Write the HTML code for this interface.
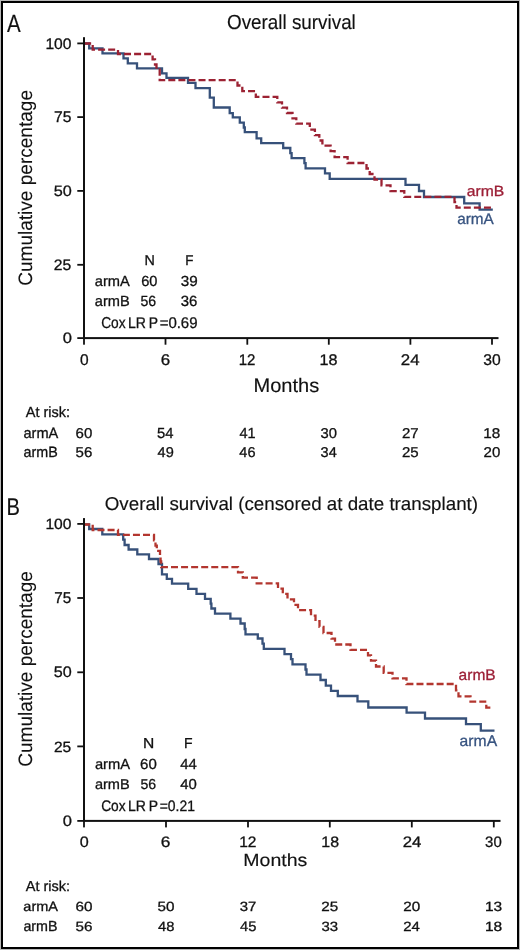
<!DOCTYPE html>
<html><head><meta charset="utf-8"><title>Overall survival</title>
<style>
html,body{margin:0;padding:0;background:#fff;}
svg{display:block;font-family:"Liberation Sans", sans-serif;}
svg{will-change:transform;} text{text-rendering:geometricPrecision;}
</style></head>
<body><svg width="520" height="950" viewBox="0 0 520 950">
<rect x="0" y="0" width="520" height="950" fill="#fff"/>
<rect x="0.5" y="0.5" width="519" height="949" fill="none" stroke="#b8b8b8" stroke-width="1"/>
<rect x="2" y="2" width="516" height="946" fill="none" stroke="#000" stroke-width="2"/>
<rect x="83" y="37.2" width="2" height="301.90" fill="#111"/><rect x="83" y="337.10" width="415.50" height="2" fill="#111"/><rect x="77.3" y="42.50" width="6" height="1.8" fill="#111"/><rect x="77.3" y="116.20" width="6" height="1.8" fill="#111"/><rect x="77.3" y="190.00" width="6" height="1.8" fill="#111"/><rect x="77.3" y="263.90" width="6" height="1.8" fill="#111"/><rect x="77.3" y="337.20" width="6" height="1.8" fill="#111"/><rect x="83.10" y="338.10" width="1.8" height="6.60" fill="#111"/><rect x="164.60" y="338.10" width="1.8" height="6.60" fill="#111"/><rect x="246.40" y="338.10" width="1.8" height="6.60" fill="#111"/><rect x="327.90" y="338.10" width="1.8" height="6.60" fill="#111"/><rect x="409.50" y="338.10" width="1.8" height="6.60" fill="#111"/><rect x="491.10" y="338.10" width="1.8" height="6.60" fill="#111"/>
<rect x="83" y="518.1" width="2" height="303.80" fill="#111"/><rect x="83" y="819.90" width="417.50" height="2" fill="#111"/><rect x="77.3" y="523.00" width="6" height="1.8" fill="#111"/><rect x="77.3" y="597.10" width="6" height="1.8" fill="#111"/><rect x="77.3" y="671.40" width="6" height="1.8" fill="#111"/><rect x="77.3" y="745.50" width="6" height="1.8" fill="#111"/><rect x="77.3" y="820.00" width="6" height="1.8" fill="#111"/><rect x="83.10" y="820.90" width="1.8" height="6.50" fill="#111"/><rect x="165.10" y="820.90" width="1.8" height="6.50" fill="#111"/><rect x="247.10" y="820.90" width="1.8" height="6.50" fill="#111"/><rect x="328.90" y="820.90" width="1.8" height="6.50" fill="#111"/><rect x="410.90" y="820.90" width="1.8" height="6.50" fill="#111"/><rect x="492.90" y="820.90" width="1.8" height="6.50" fill="#111"/>
<path d="M85,43.5 H89.2 V48.3 H102.5 V53.3 H123.5 V58.3 H127.8 V63.4 H137 V68.4 H162 V73.3 H166.5 V77.9 H188 V82.8 H195.5 V88.2 H209.8 V97.7 H213.8 V107.5 H229.7 V113.1 H232.8 V117.4 H239.8 V122.6 H243.8 V127.5 H244.8 V132.2 H256.6 V138.3 H261.2 V143.2 H283.2 V148 H290.3 V153.2 H291.6 V158.2 H304.4 V163.2 H305.6 V168.3 H325 V173.4 H329.7 V178.9 H405.5 V184.8 H419 V191 H424 V197 H464.2 V203.4 H479.6 V209.7 H492.8" fill="none" stroke="#37517a" stroke-width="2.3"/>
<path d="M85,43.5 H92.7 V49.7 H118 V54 H152.6 V59.3 H155 V64.5 H156.5 V69.7 H159.7 V80.2 H237.5 V85.5 H242.3 V91.1 H255.8 V96.8 H277.3 V102.3 H282 V107.7 H287 V113 H292.5 V118.3 H296.3 V123.7 H309.8 V129.6 H314.9 V135.1 H319.3 V140.5 H322.4 V145.6 H330.6 V151.1 H334.6 V157.1 H347.6 V163 H366.5 V168.5 H369.7 V174 H374.5 V179.6 H381.5 V185.3 H390.5 V191.1 H404.3 V196.8 H454.5 V202.2 H456.5 V207.7 H491" fill="none" stroke="#9c2233" stroke-width="2.3" stroke-dasharray="7 3.0714" stroke-dashoffset="0.849"/>
<path d="M85,524.3 H89.2 V529 H102.3 V534.4 H123.2 V539.6 H124.6 V545 H128.6 V549.5 H137.3 V554.3 H149 V559 H158.5 V564 H162 V574.3 H166.8 V578.8 H172 V583.6 H188.2 V588.8 H196.5 V593.8 H205 V598.8 H210.7 V603.7 H211.4 V608.5 H215 V613.7 H230.4 V618.6 H240.5 V623.5 H244.7 V629 H245.5 V634.3 H257.8 V638.5 H262.5 V643.7 H263.8 V648.8 H284.5 V654.1 H291 V659.2 H292.5 V664.4 H305.5 V669.5 H306.5 V674.6 H320.5 V680 H325.8 V685.7 H331 V690.8 H337.8 V696 H357.5 V701.4 H368.3 V707.5 H406.6 V712.7 H425 V718.5 H466 V724.1 H480.8 V730.6 H494.5" fill="none" stroke="#37517a" stroke-width="2.3"/>
<path d="M85,524.5 H92.7 V530 H118 V534.8 H154 V540.3 H155.5 V545.6 H156.8 V550.9 H160 V556.2 H160.6 V561.5 H161.2 V567.2 H238 V572.4 H242.8 V577.7 H256.7 V583.3 H278 V588.6 H282.8 V593.9 H287.5 V599.3 H294 V604.8 H298 V610.2 H311 V615.7 H315.5 V621.2 H319.5 V626.8 H323.5 V633 H331.5 V638.6 H335 V644.5 H350.5 V649.9 H368 V655.3 H371 V660.7 H376 V666.5 H383.7 V672.8 H392.5 V678.4 H406.5 V684 H456 V690.3 H458.5 V696.3 H470.5 V701.7 H486.3 V707.7 H491" fill="none" stroke="#b3362f" stroke-width="2.3" stroke-dasharray="7 3.0634" stroke-dashoffset="2.127"/>
<text x="7.10" y="31.90" font-size="24.87" stroke-width="0.15" textLength="13.71" lengthAdjust="spacingAndGlyphs" fill="#111" stroke="#111">A</text>
<text x="226.98" y="29.10" font-size="20.42" stroke-width="0.15" textLength="128.84" lengthAdjust="spacingAndGlyphs" fill="#111" stroke="#111">Overall survival</text>
<text x="45.40" y="48.50" font-size="15.29" stroke-width="0.3" textLength="26.05" lengthAdjust="spacingAndGlyphs" fill="#111" stroke="#111">100</text>
<text x="54.12" y="122.40" font-size="15.51" stroke-width="0.3" textLength="17.40" lengthAdjust="spacingAndGlyphs" fill="#111" stroke="#111">75</text>
<text x="53.69" y="196.10" font-size="15.00" stroke-width="0.3" textLength="18.06" lengthAdjust="spacingAndGlyphs" fill="#111" stroke="#111">50</text>
<text x="53.71" y="269.60" font-size="15.14" stroke-width="0.3" textLength="17.51" lengthAdjust="spacingAndGlyphs" fill="#111" stroke="#111">25</text>
<text x="62.65" y="343.00" font-size="15.00" stroke-width="0.3" textLength="9.21" lengthAdjust="spacingAndGlyphs" fill="#111" stroke="#111">0</text>
<text x="79.98" y="365.20" font-size="15.43" stroke-width="0.3" textLength="8.63" lengthAdjust="spacingAndGlyphs" fill="#111" stroke="#111">0</text>
<text x="160.75" y="365.20" font-size="15.43" stroke-width="0.3" textLength="9.42" lengthAdjust="spacingAndGlyphs" fill="#111" stroke="#111">6</text>
<text x="238.65" y="365.20" font-size="15.43" stroke-width="0.3" textLength="16.74" lengthAdjust="spacingAndGlyphs" fill="#111" stroke="#111">12</text>
<text x="319.55" y="365.20" font-size="15.43" stroke-width="0.3" textLength="17.99" lengthAdjust="spacingAndGlyphs" fill="#111" stroke="#111">18</text>
<text x="400.86" y="365.20" font-size="15.43" stroke-width="0.3" textLength="18.73" lengthAdjust="spacingAndGlyphs" fill="#111" stroke="#111">24</text>
<text x="483.28" y="365.20" font-size="15.43" stroke-width="0.3" textLength="17.44" lengthAdjust="spacingAndGlyphs" fill="#111" stroke="#111">30</text>
<text x="253.46" y="392.30" font-size="19.50" stroke-width="0.15" textLength="65.77" lengthAdjust="spacingAndGlyphs" fill="#111" stroke="#111">Months</text>
<text x="144.50" y="265.00" font-size="14.30" stroke-width="0.3" textLength="10.36" lengthAdjust="spacingAndGlyphs" fill="#111" stroke="#111">N</text>
<text x="185.27" y="265.00" font-size="14.30" stroke-width="0.3" textLength="8.20" lengthAdjust="spacingAndGlyphs" fill="#111" stroke="#111">F</text>
<text x="94.84" y="286.10" font-size="14.59" stroke-width="0.3" textLength="35.03" lengthAdjust="spacingAndGlyphs" fill="#111" stroke="#111">armA</text>
<text x="141.16" y="286.10" font-size="14.59" stroke-width="0.3" textLength="16.27" lengthAdjust="spacingAndGlyphs" fill="#111" stroke="#111">60</text>
<text x="180.72" y="286.10" font-size="14.59" stroke-width="0.3" textLength="16.93" lengthAdjust="spacingAndGlyphs" fill="#111" stroke="#111">39</text>
<text x="94.84" y="306.30" font-size="14.73" stroke-width="0.3" textLength="34.87" lengthAdjust="spacingAndGlyphs" fill="#111" stroke="#111">armB</text>
<text x="140.46" y="306.30" font-size="14.73" stroke-width="0.3" textLength="15.65" lengthAdjust="spacingAndGlyphs" fill="#111" stroke="#111">56</text>
<text x="180.73" y="306.30" font-size="14.73" stroke-width="0.3" textLength="16.61" lengthAdjust="spacingAndGlyphs" fill="#111" stroke="#111">36</text>
<text x="101.21" y="328.40" font-size="15.74" stroke-width="0.3" textLength="24.42" lengthAdjust="spacingAndGlyphs" fill="#111" stroke="#111">Cox</text>
<text x="127.92" y="328.30" font-size="15.46" stroke-width="0.3" textLength="17.95" lengthAdjust="spacingAndGlyphs" fill="#111" stroke="#111">LR</text>
<text x="148.73" y="328.30" font-size="15.46" stroke-width="0.3" textLength="9.29" lengthAdjust="spacingAndGlyphs" fill="#111" stroke="#111">P</text>
<text x="159.64" y="328.30" font-size="15.46" stroke-width="0.3" textLength="37.92" lengthAdjust="spacingAndGlyphs" fill="#111" stroke="#111">=0.69</text>
<text x="25.80" y="417.40" font-size="14.70" stroke-width="0.3" textLength="44.33" lengthAdjust="spacingAndGlyphs" fill="#111" stroke="#111">At risk:</text>
<text x="23.48" y="437.60" font-size="14.88" stroke-width="0.3" textLength="34.87" lengthAdjust="spacingAndGlyphs" fill="#111" stroke="#111">armA</text>
<text x="23.49" y="456.80" font-size="14.88" stroke-width="0.3" textLength="34.23" lengthAdjust="spacingAndGlyphs" fill="#111" stroke="#111">armB</text>
<text x="75.54" y="437.50" font-size="14.22" stroke-width="0.3" textLength="16.73" lengthAdjust="spacingAndGlyphs" fill="#111" stroke="#111">60</text>
<text x="75.54" y="457.10" font-size="14.22" stroke-width="0.3" textLength="16.73" lengthAdjust="spacingAndGlyphs" fill="#111" stroke="#111">56</text>
<text x="157.06" y="437.50" font-size="14.59" stroke-width="0.3" textLength="16.44" lengthAdjust="spacingAndGlyphs" fill="#111" stroke="#111">54</text>
<text x="157.59" y="457.10" font-size="14.22" stroke-width="0.3" textLength="16.16" lengthAdjust="spacingAndGlyphs" fill="#111" stroke="#111">49</text>
<text x="239.39" y="437.50" font-size="14.59" stroke-width="0.3" textLength="16.16" lengthAdjust="spacingAndGlyphs" fill="#111" stroke="#111">41</text>
<text x="239.39" y="457.10" font-size="14.22" stroke-width="0.3" textLength="16.16" lengthAdjust="spacingAndGlyphs" fill="#111" stroke="#111">46</text>
<text x="320.62" y="437.50" font-size="14.22" stroke-width="0.3" textLength="16.44" lengthAdjust="spacingAndGlyphs" fill="#111" stroke="#111">30</text>
<text x="320.63" y="457.10" font-size="14.22" stroke-width="0.3" textLength="16.16" lengthAdjust="spacingAndGlyphs" fill="#111" stroke="#111">34</text>
<text x="401.94" y="437.50" font-size="14.22" stroke-width="0.3" textLength="16.73" lengthAdjust="spacingAndGlyphs" fill="#111" stroke="#111">27</text>
<text x="401.94" y="457.10" font-size="14.22" stroke-width="0.3" textLength="16.73" lengthAdjust="spacingAndGlyphs" fill="#111" stroke="#111">25</text>
<text x="483.26" y="437.50" font-size="14.22" stroke-width="0.3" textLength="17.02" lengthAdjust="spacingAndGlyphs" fill="#111" stroke="#111">18</text>
<text x="483.54" y="457.10" font-size="14.22" stroke-width="0.3" textLength="16.73" lengthAdjust="spacingAndGlyphs" fill="#111" stroke="#111">20</text>
<text x="466.82" y="196.00" font-size="14.74" stroke-width="0.3" textLength="37.47" lengthAdjust="spacingAndGlyphs" fill="#9c1f36" stroke="#9c1f36">armB</text>
<text x="457.23" y="224.40" font-size="15.32" stroke-width="0.3" textLength="36.58" lengthAdjust="spacingAndGlyphs" fill="#385480" stroke="#385480">armA</text>
<text x="6.42" y="515.00" font-size="24.29" stroke-width="0.15" textLength="13.44" lengthAdjust="spacingAndGlyphs" fill="#111" stroke="#111">B</text>
<text x="104.79" y="509.70" font-size="18.64" stroke-width="0.15" textLength="373.25" lengthAdjust="spacingAndGlyphs" fill="#111" stroke="#111">Overall survival (censored at date transplant)</text>
<text x="45.40" y="528.70" font-size="14.86" stroke-width="0.3" textLength="26.05" lengthAdjust="spacingAndGlyphs" fill="#111" stroke="#111">100</text>
<text x="54.24" y="603.20" font-size="15.66" stroke-width="0.3" textLength="16.96" lengthAdjust="spacingAndGlyphs" fill="#111" stroke="#111">75</text>
<text x="53.89" y="677.30" font-size="15.29" stroke-width="0.3" textLength="17.95" lengthAdjust="spacingAndGlyphs" fill="#111" stroke="#111">50</text>
<text x="53.92" y="751.60" font-size="14.86" stroke-width="0.3" textLength="17.29" lengthAdjust="spacingAndGlyphs" fill="#111" stroke="#111">25</text>
<text x="62.65" y="826.00" font-size="15.00" stroke-width="0.3" textLength="9.21" lengthAdjust="spacingAndGlyphs" fill="#111" stroke="#111">0</text>
<text x="79.76" y="847.20" font-size="15.14" stroke-width="0.3" textLength="8.98" lengthAdjust="spacingAndGlyphs" fill="#111" stroke="#111">0</text>
<text x="160.83" y="847.20" font-size="15.14" stroke-width="0.3" textLength="9.65" lengthAdjust="spacingAndGlyphs" fill="#111" stroke="#111">6</text>
<text x="239.20" y="847.20" font-size="15.14" stroke-width="0.3" textLength="17.31" lengthAdjust="spacingAndGlyphs" fill="#111" stroke="#111">12</text>
<text x="321.27" y="847.20" font-size="15.14" stroke-width="0.3" textLength="17.76" lengthAdjust="spacingAndGlyphs" fill="#111" stroke="#111">18</text>
<text x="402.66" y="847.20" font-size="15.14" stroke-width="0.3" textLength="18.63" lengthAdjust="spacingAndGlyphs" fill="#111" stroke="#111">24</text>
<text x="485.10" y="847.20" font-size="15.14" stroke-width="0.3" textLength="16.58" lengthAdjust="spacingAndGlyphs" fill="#111" stroke="#111">30</text>
<text x="243.37" y="866.20" font-size="17.58" stroke-width="0.15" textLength="63.97" lengthAdjust="spacingAndGlyphs" fill="#111" stroke="#111">Months</text>
<text x="143.00" y="747.60" font-size="14.44" stroke-width="0.3" textLength="11.27" lengthAdjust="spacingAndGlyphs" fill="#111" stroke="#111">N</text>
<text x="183.92" y="747.60" font-size="14.44" stroke-width="0.3" textLength="8.56" lengthAdjust="spacingAndGlyphs" fill="#111" stroke="#111">F</text>
<text x="94.93" y="768.50" font-size="14.59" stroke-width="0.3" textLength="35.14" lengthAdjust="spacingAndGlyphs" fill="#111" stroke="#111">armA</text>
<text x="140.13" y="768.50" font-size="14.59" stroke-width="0.3" textLength="16.71" lengthAdjust="spacingAndGlyphs" fill="#111" stroke="#111">60</text>
<text x="180.21" y="768.50" font-size="14.59" stroke-width="0.3" textLength="16.57" lengthAdjust="spacingAndGlyphs" fill="#111" stroke="#111">44</text>
<text x="94.94" y="789.20" font-size="14.30" stroke-width="0.3" textLength="34.77" lengthAdjust="spacingAndGlyphs" fill="#111" stroke="#111">armB</text>
<text x="140.46" y="789.20" font-size="14.30" stroke-width="0.3" textLength="15.65" lengthAdjust="spacingAndGlyphs" fill="#111" stroke="#111">56</text>
<text x="180.21" y="789.20" font-size="14.30" stroke-width="0.3" textLength="16.57" lengthAdjust="spacingAndGlyphs" fill="#111" stroke="#111">40</text>
<text x="101.21" y="810.60" font-size="15.31" stroke-width="0.3" textLength="24.42" lengthAdjust="spacingAndGlyphs" fill="#111" stroke="#111">Cox</text>
<text x="127.92" y="810.50" font-size="15.02" stroke-width="0.3" textLength="17.95" lengthAdjust="spacingAndGlyphs" fill="#111" stroke="#111">LR</text>
<text x="148.73" y="810.50" font-size="15.02" stroke-width="0.3" textLength="9.29" lengthAdjust="spacingAndGlyphs" fill="#111" stroke="#111">P</text>
<text x="159.70" y="810.50" font-size="15.02" stroke-width="0.3" textLength="35.20" lengthAdjust="spacingAndGlyphs" fill="#111" stroke="#111">=0.21</text>
<text x="25.80" y="890.70" font-size="14.42" stroke-width="0.3" textLength="44.33" lengthAdjust="spacingAndGlyphs" fill="#111" stroke="#111">At risk:</text>
<text x="23.38" y="910.80" font-size="13.71" stroke-width="0.3" textLength="34.67" lengthAdjust="spacingAndGlyphs" fill="#111" stroke="#111">armA</text>
<text x="23.39" y="930.70" font-size="14.59" stroke-width="0.3" textLength="34.13" lengthAdjust="spacingAndGlyphs" fill="#111" stroke="#111">armB</text>
<text x="75.43" y="910.60" font-size="13.35" stroke-width="0.3" textLength="16.94" lengthAdjust="spacingAndGlyphs" fill="#111" stroke="#111">60</text>
<text x="75.43" y="930.60" font-size="13.35" stroke-width="0.3" textLength="16.94" lengthAdjust="spacingAndGlyphs" fill="#111" stroke="#111">56</text>
<text x="157.43" y="910.60" font-size="13.35" stroke-width="0.3" textLength="16.94" lengthAdjust="spacingAndGlyphs" fill="#111" stroke="#111">50</text>
<text x="157.99" y="930.60" font-size="13.35" stroke-width="0.3" textLength="16.37" lengthAdjust="spacingAndGlyphs" fill="#111" stroke="#111">48</text>
<text x="239.72" y="910.60" font-size="13.35" stroke-width="0.3" textLength="16.65" lengthAdjust="spacingAndGlyphs" fill="#111" stroke="#111">37</text>
<text x="239.99" y="930.60" font-size="13.71" stroke-width="0.3" textLength="16.37" lengthAdjust="spacingAndGlyphs" fill="#111" stroke="#111">45</text>
<text x="321.23" y="910.60" font-size="13.35" stroke-width="0.3" textLength="16.94" lengthAdjust="spacingAndGlyphs" fill="#111" stroke="#111">25</text>
<text x="321.52" y="930.60" font-size="13.35" stroke-width="0.3" textLength="16.65" lengthAdjust="spacingAndGlyphs" fill="#111" stroke="#111">33</text>
<text x="403.23" y="910.60" font-size="13.35" stroke-width="0.3" textLength="16.94" lengthAdjust="spacingAndGlyphs" fill="#111" stroke="#111">20</text>
<text x="403.25" y="930.60" font-size="13.35" stroke-width="0.3" textLength="16.65" lengthAdjust="spacingAndGlyphs" fill="#111" stroke="#111">24</text>
<text x="484.94" y="910.60" font-size="13.35" stroke-width="0.3" textLength="17.25" lengthAdjust="spacingAndGlyphs" fill="#111" stroke="#111">13</text>
<text x="484.94" y="930.60" font-size="13.35" stroke-width="0.3" textLength="17.25" lengthAdjust="spacingAndGlyphs" fill="#111" stroke="#111">18</text>
<text x="458.63" y="680.00" font-size="15.32" stroke-width="0.3" textLength="37.05" lengthAdjust="spacingAndGlyphs" fill="#9c1f36" stroke="#9c1f36">armB</text>
<text x="459.62" y="746.00" font-size="15.47" stroke-width="0.3" textLength="37.50" lengthAdjust="spacingAndGlyphs" fill="#385480" stroke="#385480">armA</text>
<text transform="translate(32.30,285.78) rotate(-90)" x="0" y="0" font-size="19.43" stroke-width="0.1" textLength="195.75" lengthAdjust="spacingAndGlyphs" fill="#111" stroke="#111">Cumulative percentage</text>
<text transform="translate(32.30,766.78) rotate(-90)" x="0" y="0" font-size="19.43" stroke-width="0.1" textLength="195.65" lengthAdjust="spacingAndGlyphs" fill="#111" stroke="#111">Cumulative percentage</text>
</svg></body></html>
